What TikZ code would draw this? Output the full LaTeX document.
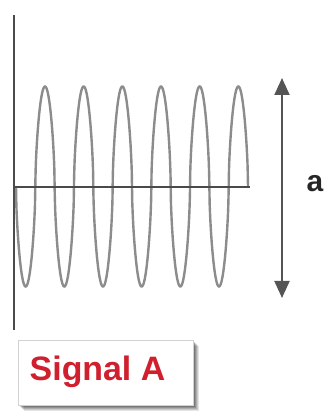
\documentclass[tikz,border=0pt]{standalone}
\usepackage{fontspec}
\setmainfont{Liberation Sans}
\usetikzlibrary{arrows.meta}
\definecolor{wavegray}{HTML}{8C8C8C}
\definecolor{axisgray}{HTML}{4A4A4A}
\definecolor{arrowgray}{HTML}{555555}
\definecolor{sigred}{HTML}{D0202E}
\tikzset{
  axisline/.style={draw=axisgray, line width=2.4bp},
  waveline/.style={draw=wavegray, line width=2.4bp},
  ampl/.style={draw=arrowgray, line width=2bp, {Triangle[width=15bp,length=17bp]}-{Triangle[width=15bp,length=17bp]}},
  labelbox/.style={draw=gray!35, line width=0.6bp, fill=white, minimum width=175bp, minimum height=65bp, inner sep=0pt},
}
\begin{document}
\begin{tikzpicture}[x=1bp,y=1bp]
\useasboundingbox (0,0) rectangle (326,412);
% axes
\coordinate (ytop) at (14,397);
\coordinate (ybot) at (14,82);
\coordinate (xl) at (14,225);
\coordinate (xr) at (250,225);
% wave
\draw[waveline, smooth, samples=600, domain=0:2160] plot ({16 + \x/360*38.667}, {225.5 - 100*sign(sin(\x))*(max(abs(sin(\x)),0.00001))^0.6});
\draw[axisline] (ytop) -- (ybot);
\draw[axisline] (xl) -- (xr);
% amplitude arrow
\coordinate (atop) at (282,334);
\coordinate (abot) at (282,114);
\draw[ampl] (abot) -- (atop);
\node[font=\bfseries\fontsize{30}{32}\selectfont, text=black!85, inner sep=0pt] (alabel) at (315,228) {a};
% label box with shadow
\foreach \o/\op in {6/0.10,5/0.12,4/0.14,3/0.16,2/0.18}{
  \fill[black, opacity=\op] (18+\o,7-\o) rectangle (193+\o,72-\o);
}
\node[labelbox] (box) at (105.5,39.5) {};
\node[font=\bfseries\fontsize{34}{36}\selectfont, text=sigred, inner sep=0pt, anchor=base] (sig) at (97.5,32) {Signal A};
\end{tikzpicture}
\end{document}
